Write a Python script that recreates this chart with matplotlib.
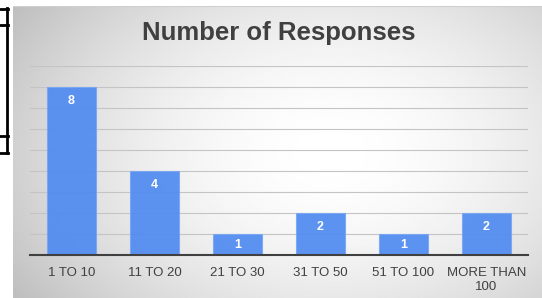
import numpy as np
import matplotlib.pyplot as plt
from matplotlib.lines import Line2D

plt.rcParams["font.family"] = ["Liberation Sans", "DejaVu Sans"]

categories = ["1 TO 10", "11 TO 20", "21 TO 30", "31 TO 50", "51 TO 100", "MORE THAN\n100"]
responses = [8, 4, 1, 2, 1, 2]

W, H = 542, 298
fig = plt.figure(figsize=(W / 100, H / 100), dpi=100)
fig.patch.set_facecolor("white")

# chart frame with radial grey gradient
x0, y0 = 13 / W, 0
bg = fig.add_axes([x0, y0, 1 - x0, (298 - 6) / H], zorder=0)
gx, gy = np.meshgrid(np.linspace(0, 1, 300), np.linspace(0, 1, 200))
r = np.sqrt(((gx - 0.6) / 0.65) ** 2 + ((gy - 0.5) / 0.8) ** 2)
shade = 1 - 0.21 * np.clip(r, 0, 1.3) ** 1.8
bg.imshow(shade, cmap="gray", vmin=0, vmax=1, aspect="auto",
          extent=[0, 1, 0, 1], interpolation="bilinear")
bg.axhline(1, color="#cfcfcf", lw=1.5)
bg.set_xlim(0, 1)
bg.set_ylim(0, 1)
bg.axis("off")

# plot area
left, right = 30 / W, 528 / W
bottom, top = 1 - 255 / H, 1 - 66 / H
ax = fig.add_axes([left, bottom, right - left, top - bottom], zorder=1)
ax.patch.set_alpha(0)
x = np.arange(len(categories))
bars = ax.bar(x, responses, width=0.6, color="#4f8af0", alpha=0.92,
              edgecolor="#7aa6f3", linewidth=0.8, zorder=2)
for b, v in zip(bars, responses):
    ax.text(b.get_x() + b.get_width() / 2, max(v - 0.68, v / 2), str(v), ha="center",
            va="center", color="white", fontsize=9, fontweight="bold", zorder=3)

ax.set_xlim(-0.5, len(categories) - 0.5)
ax.set_ylim(0, 9)
ax.set_yticks(range(1, 10))
ax.yaxis.grid(True, color="#c4c4c4", lw=0.8, zorder=0)
ax.set_axisbelow(True)
ax.tick_params(axis="y", left=False, labelleft=False)
ax.tick_params(axis="x", bottom=False, pad=5, labelsize=9.5, labelcolor="#404040")
ax.set_xticks(x)
ax.set_xticklabels(categories, linespacing=1.25)
for s in ["top", "right", "left"]:
    ax.spines[s].set_visible(False)
ax.spines["bottom"].set_color("#404040")
ax.spines["bottom"].set_linewidth(1.5)

fig.text(279 / W, 1 - 33 / H, "Number of Responses", ha="center", va="center",
         fontsize=18.5, fontweight="bold", color="#404040")

# selection bracket on the left edge
def seg(xa, ya, xb, yb):
    fig.add_artist(Line2D([xa / W, xb / W], [1 - ya / H, 1 - yb / H],
                          color="black", lw=2, transform=fig.transFigure))

seg(0, 8.5, 8, 8.5)
seg(0, 25, 8, 25)
seg(7, 8, 7, 153)
seg(0, 136, 8, 136)
seg(0, 152.5, 8, 152.5)

fig.savefig("out.png", dpi=100)
